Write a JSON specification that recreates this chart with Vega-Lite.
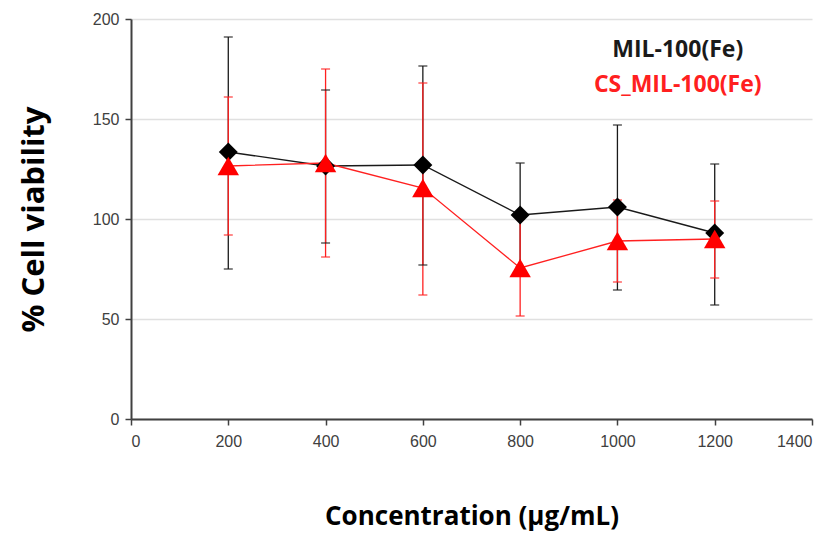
{
  "$schema": "https://vega.github.io/schema/vega-lite/v6.json",
  "width": 681,
  "height": 400,
  "autosize": {"type": "none"},
  "padding": {"left": 131, "top": 19, "right": 26, "bottom": 122},
  "background": "white",
  "config": {
    "view": {"stroke": null},
    "font": "Open Sans"
  },
  "datasets": {
    "viability": [
      {"conc": 200, "series": "MIL-100(Fe)", "mean": 133.5, "lo": 75, "hi": 191},
      {"conc": 400, "series": "MIL-100(Fe)", "mean": 126.5, "lo": 88, "hi": 164.5},
      {"conc": 600, "series": "MIL-100(Fe)", "mean": 127, "lo": 77, "hi": 176.5},
      {"conc": 800, "series": "MIL-100(Fe)", "mean": 102, "lo": 76, "hi": 128},
      {"conc": 1000, "series": "MIL-100(Fe)", "mean": 106, "lo": 64.5, "hi": 147},
      {"conc": 1200, "series": "MIL-100(Fe)", "mean": 93, "lo": 57, "hi": 127.5},
      {"conc": 200, "series": "CS_MIL-100(Fe)", "mean": 126.5, "lo": 92, "hi": 161},
      {"conc": 400, "series": "CS_MIL-100(Fe)", "mean": 128, "lo": 81, "hi": 175},
      {"conc": 600, "series": "CS_MIL-100(Fe)", "mean": 115.5, "lo": 62, "hi": 168},
      {"conc": 800, "series": "CS_MIL-100(Fe)", "mean": 75.5, "lo": 51.5, "hi": 100},
      {"conc": 1000, "series": "CS_MIL-100(Fe)", "mean": 89, "lo": 68.5, "hi": 109.5},
      {"conc": 1200, "series": "CS_MIL-100(Fe)", "mean": 90, "lo": 70.5, "hi": 109}
    ],
    "legend": [
      {"conc": 1124, "v": 184.5, "series": "MIL-100(Fe)"},
      {"conc": 1124, "v": 167, "series": "CS_MIL-100(Fe)"}
    ]
  },
  "encoding": {
    "x": {
      "field": "conc",
      "type": "quantitative",
      "scale": {"domain": [0, 1400], "nice": false},
      "axis": {
        "values": [0, 200, 400, 600, 800, 1000, 1200, 1400],
        "format": "d",
        "title": "Concentration (µg/mL)",
        "titleFont": "Open Sans",
        "titleFontSize": 26,
        "titleFontWeight": "bold",
        "titleColor": "#000000",
        "titlePadding": 54,
        "labelFont": "Liberation Sans",
        "labelFontSize": 16,
        "labelColor": "#404040",
        "labelPadding": 8,
        "grid": false,
        "domainColor": "#404040",
        "domainWidth": 2,
        "tickColor": "#404040",
        "tickWidth": 1.5,
        "tickSize": 6
      }
    }
  },
  "layer": [
    {
      "data": {"name": "viability"},
      "mark": {"type": "rule", "strokeWidth": 1.3},
      "encoding": {
        "y": {
          "field": "lo",
          "type": "quantitative",
          "scale": {"domain": [0, 200], "nice": false},
          "axis": {
            "values": [0, 50, 100, 150, 200],
            "title": "% Cell viability",
            "titleFont": "Open Sans",
            "titleFontSize": 31,
            "titleFontWeight": "bold",
            "titleColor": "#000000",
            "titlePadding": 42,
            "labelFont": "Liberation Sans",
            "labelFontSize": 16,
            "labelColor": "#404040",
            "labelPadding": 6,
            "grid": true,
            "gridColor": "#e0e0e0",
            "gridWidth": 1.5,
            "domainColor": "#404040",
            "domainWidth": 2,
            "tickColor": "#404040",
            "tickWidth": 1.5,
            "tickSize": 6
          }
        },
        "y2": {"field": "hi"},
        "color": {
          "field": "series",
          "type": "nominal",
          "scale": {"domain": ["MIL-100(Fe)", "CS_MIL-100(Fe)"], "range": ["#1a1a1a", "#ff2020"]},
          "legend": null
        }
      }
    },
    {
      "data": {"name": "viability"},
      "mark": {"type": "tick", "orient": "horizontal", "size": 9, "thickness": 1.5},
      "encoding": {
        "y": {"field": "lo", "type": "quantitative"},
        "color": {"field": "series", "type": "nominal", "legend": null}
      }
    },
    {
      "data": {"name": "viability"},
      "mark": {"type": "tick", "orient": "horizontal", "size": 9, "thickness": 1.5},
      "encoding": {
        "y": {"field": "hi", "type": "quantitative"},
        "color": {"field": "series", "type": "nominal", "legend": null}
      }
    },
    {
      "data": {"name": "viability"},
      "mark": {"type": "line", "strokeWidth": 1.3},
      "encoding": {
        "y": {"field": "mean", "type": "quantitative"},
        "color": {"field": "series", "type": "nominal", "legend": null},
        "detail": {"field": "series"}
      }
    },
    {
      "data": {"name": "viability"},
      "transform": [{"filter": "datum.series === 'MIL-100(Fe)'"}],
      "mark": {"type": "point", "shape": "diamond", "filled": true, "size": 360, "opacity": 1, "color": "#000000"},
      "encoding": {
        "y": {"field": "mean", "type": "quantitative"}
      }
    },
    {
      "data": {"name": "viability"},
      "transform": [{"filter": "datum.series === 'CS_MIL-100(Fe)'"}],
      "mark": {"type": "point", "shape": "triangle-up", "filled": true, "size": 460, "opacity": 1, "color": "#ff0000"},
      "encoding": {
        "y": {"field": "mean", "type": "quantitative"}
      }
    },
    {
      "data": {"name": "legend"},
      "mark": {"type": "text", "font": "Open Sans", "fontWeight": "bold", "fontSize": 23, "align": "center", "baseline": "middle"},
      "encoding": {
        "y": {"field": "v", "type": "quantitative"},
        "text": {"field": "series"},
        "color": {"field": "series", "type": "nominal", "legend": null}
      }
    }
  ]
}
